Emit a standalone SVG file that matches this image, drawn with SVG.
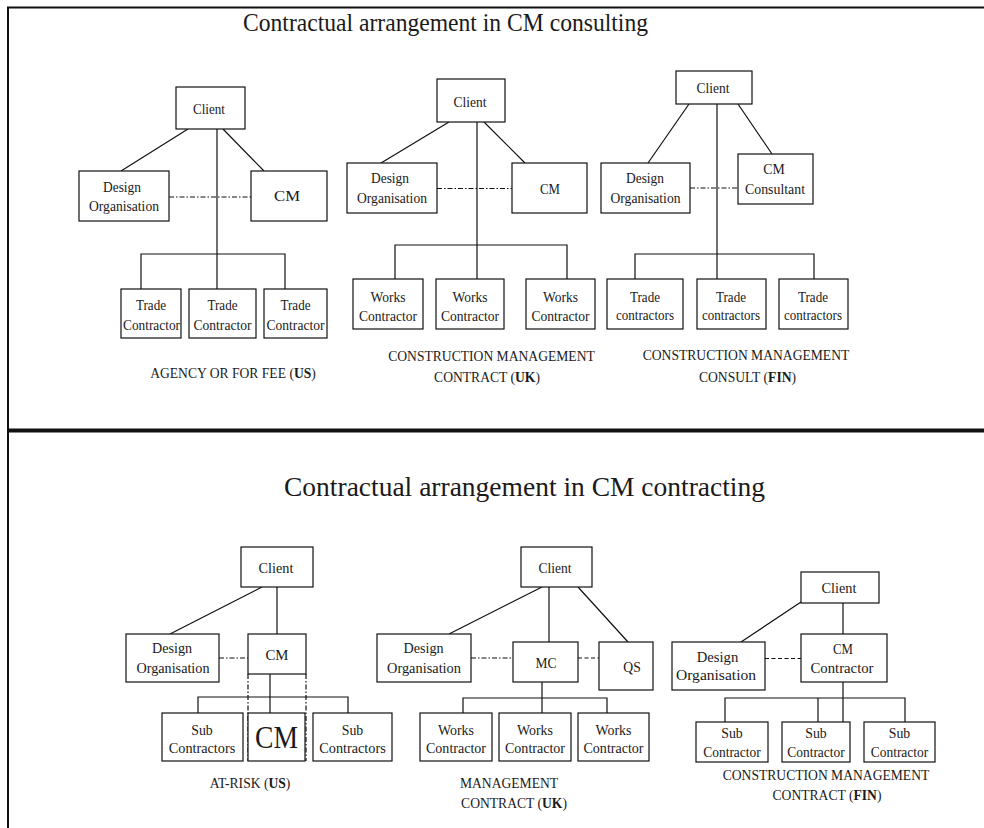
<svg xmlns="http://www.w3.org/2000/svg" width="984" height="828" viewBox="0 0 984 828">
  <style>
    .box { fill: #fff; stroke: #111; stroke-width: 1.2; }
    .ln { fill: none; stroke: #111; stroke-width: 1.2; }
    .dd { stroke-dasharray: 5 2 1.5 2; }
    .da { stroke-dasharray: 4 2.5; }
    .frame { fill: none; stroke: #111; }
    text { font-family: "Liberation Serif", "Times New Roman", serif; font-size: 15px; fill: #1a1a1a; text-anchor: middle; }
    .cap { font-size: 13.6px; }
    .title { font-size: 25px; }
    .title2 { font-size: 28px; }
    .big { font-size: 32px; }
    .b { font-weight: bold; }
  </style>
  <rect x="0" y="0" width="984" height="828" fill="#fff"/>

  <!-- frame and section divider -->
  <g id="frame">
    <path class="frame" stroke-width="2" d="M8,828 V7.5 H984"/>
    <path class="frame" stroke-width="4" d="M8,430.5 H984"/>
  </g>

  <text class="title" x="445.5" y="31" textLength="405" lengthAdjust="spacingAndGlyphs">Contractual arrangement in CM consulting</text>
  <text class="title2" x="524.5" y="496" textLength="481" lengthAdjust="spacingAndGlyphs">Contractual arrangement in CM contracting</text>

  <!-- connectors -->
  <g id="connectors">
    <!-- agency / for fee (US) -->
    <path class="ln" d="M188,129 L121,171 M223,129 L264,171 M217,129 V289 M141,289 V254 H285 V289"/>
    <path class="ln dd" d="M169,197 H251"/>
    <!-- CM contract (UK) -->
    <path class="ln" d="M449,122 L381,163 M484,122 L525,163 M477,122 V279 M395,279 V245 H567 V279"/>
    <path class="ln dd" d="M437,188.5 H512"/>
    <!-- CM consult (FIN) -->
    <path class="ln" d="M689,104 L648,163 M738,104 L772,154 M717,104 V279 M635,279 V254 H814 V279"/>
    <path class="ln dd" d="M690,188 H738"/>
    <!-- at-risk (US) -->
    <path class="ln" d="M262,587 L170,634 M277,587 V634 M270,674 V713 M198,713 V697 H348 V713"/>
    <path class="ln dd" d="M219,658 H248 M248,674 V761 M306,674 V761"/>
    <!-- management contract (UK) -->
    <path class="ln" d="M542,587 L449,634 M549,587 V642 M578,587 L628,642 M542,682 V713 M463,713 V698 H607 V713"/>
    <path class="ln dd" d="M471,658 H513"/>
    <path class="ln da" d="M578,658 H599"/>
    <!-- CM contract (FIN) -->
    <path class="ln" d="M801,602 L741,642 M843,603 V634 M843,682 V722 M725,722 V698 H905 V722 M818,698 V722"/>
    <path class="ln da" d="M765,658.5 H801"/>
  </g>

  <!-- ===== Agency or for fee (US) ===== -->
  <g id="us-fee-client"><rect class="box" x="176" y="87" width="69" height="42"/>
    <text x="209" y="114" textLength="32" lengthAdjust="spacingAndGlyphs">Client</text></g>
  <g id="us-fee-design"><rect class="box" x="79" y="171" width="90" height="50"/>
    <text x="122" y="192" textLength="38" lengthAdjust="spacingAndGlyphs">Design</text>
    <text x="124" y="211" textLength="70" lengthAdjust="spacingAndGlyphs">Organisation</text></g>
  <g id="us-fee-cm"><rect class="box" x="251" y="171" width="76" height="50"/>
    <text x="287" y="201" textLength="26" lengthAdjust="spacingAndGlyphs">CM</text></g>
  <g id="us-fee-trade-1"><rect class="box" x="121" y="289" width="60" height="49"/>
    <text x="151" y="310" textLength="30" lengthAdjust="spacingAndGlyphs">Trade</text>
    <text x="151.5" y="330" textLength="57" lengthAdjust="spacingAndGlyphs">Contractor</text></g>
  <g id="us-fee-trade-2"><rect class="box" x="189" y="289" width="67" height="49"/>
    <text x="222.5" y="310" textLength="30" lengthAdjust="spacingAndGlyphs">Trade</text>
    <text x="222.5" y="330" textLength="58" lengthAdjust="spacingAndGlyphs">Contractor</text></g>
  <g id="us-fee-trade-3"><rect class="box" x="264" y="289" width="63" height="49"/>
    <text x="295.5" y="310" textLength="30" lengthAdjust="spacingAndGlyphs">Trade</text>
    <text x="295.5" y="330" textLength="58" lengthAdjust="spacingAndGlyphs">Contractor</text></g>
  <text class="cap" x="233" y="378">AGENCY OR FOR FEE (<tspan class="b">US</tspan>)</text>

  <!-- ===== Construction management contract (UK) ===== -->
  <g id="uk-cmc-client"><rect class="box" x="437" y="79" width="68" height="43"/>
    <text x="470" y="107" textLength="33" lengthAdjust="spacingAndGlyphs">Client</text></g>
  <g id="uk-cmc-design"><rect class="box" x="347" y="163" width="90" height="50"/>
    <text x="390" y="183" textLength="38" lengthAdjust="spacingAndGlyphs">Design</text>
    <text x="392" y="202.5" textLength="70" lengthAdjust="spacingAndGlyphs">Organisation</text></g>
  <g id="uk-cmc-cm"><rect class="box" x="512" y="163" width="75" height="50"/>
    <text x="550" y="194" textLength="20" lengthAdjust="spacingAndGlyphs">CM</text></g>
  <g id="uk-cmc-works-1"><rect class="box" x="353" y="279" width="70" height="50"/>
    <text x="388" y="301.5" textLength="35" lengthAdjust="spacingAndGlyphs">Works</text>
    <text x="388" y="320.5" textLength="58" lengthAdjust="spacingAndGlyphs">Contractor</text></g>
  <g id="uk-cmc-works-2"><rect class="box" x="436" y="279" width="68" height="50"/>
    <text x="470" y="301.5" textLength="35" lengthAdjust="spacingAndGlyphs">Works</text>
    <text x="470" y="320.5" textLength="58" lengthAdjust="spacingAndGlyphs">Contractor</text></g>
  <g id="uk-cmc-works-3"><rect class="box" x="526" y="279" width="69" height="50"/>
    <text x="560.5" y="301.5" textLength="35" lengthAdjust="spacingAndGlyphs">Works</text>
    <text x="560.5" y="320.5" textLength="58" lengthAdjust="spacingAndGlyphs">Contractor</text></g>
  <text class="cap" x="491.5" y="360.5">CONSTRUCTION MANAGEMENT</text>
  <text class="cap" x="487" y="381.5">CONTRACT (<tspan class="b">UK</tspan>)</text>

  <!-- ===== Construction management consult (FIN) ===== -->
  <g id="fin-consult-client"><rect class="box" x="676" y="71" width="76" height="33"/>
    <text x="713" y="93" textLength="33" lengthAdjust="spacingAndGlyphs">Client</text></g>
  <g id="fin-consult-design"><rect class="box" x="601" y="163" width="89" height="50"/>
    <text x="645" y="183" textLength="38" lengthAdjust="spacingAndGlyphs">Design</text>
    <text x="645.5" y="202.5" textLength="70" lengthAdjust="spacingAndGlyphs">Organisation</text></g>
  <g id="fin-consult-cm"><rect class="box" x="738" y="154" width="75" height="50"/>
    <text x="774" y="174" textLength="21.5" lengthAdjust="spacingAndGlyphs">CM</text>
    <text x="775" y="194" textLength="60" lengthAdjust="spacingAndGlyphs">Consultant</text></g>
  <g id="fin-consult-trade-1"><rect class="box" x="607" y="279" width="76" height="50"/>
    <text x="645" y="301.5" textLength="30" lengthAdjust="spacingAndGlyphs">Trade</text>
    <text x="645" y="320" textLength="58" lengthAdjust="spacingAndGlyphs">contractors</text></g>
  <g id="fin-consult-trade-2"><rect class="box" x="697" y="279" width="69" height="50"/>
    <text x="731" y="301.5" textLength="30" lengthAdjust="spacingAndGlyphs">Trade</text>
    <text x="731" y="320" textLength="58" lengthAdjust="spacingAndGlyphs">contractors</text></g>
  <g id="fin-consult-trade-3"><rect class="box" x="779" y="279" width="69" height="50"/>
    <text x="813" y="301.5" textLength="30" lengthAdjust="spacingAndGlyphs">Trade</text>
    <text x="813" y="320" textLength="58" lengthAdjust="spacingAndGlyphs">contractors</text></g>
  <text class="cap" x="746" y="360">CONSTRUCTION MANAGEMENT</text>
  <text class="cap" x="747.5" y="381.5">CONSULT (<tspan class="b">FIN</tspan>)</text>

  <!-- ===== At-risk (US) ===== -->
  <g id="us-risk-client"><rect class="box" x="241" y="547" width="72" height="40"/>
    <text x="276" y="573" textLength="35" lengthAdjust="spacingAndGlyphs">Client</text></g>
  <g id="us-risk-design"><rect class="box" x="126" y="634" width="93" height="48"/>
    <text x="172" y="653" textLength="40" lengthAdjust="spacingAndGlyphs">Design</text>
    <text x="173" y="672.5" textLength="73" lengthAdjust="spacingAndGlyphs">Organisation</text></g>
  <g id="us-risk-cm"><rect class="box" x="248" y="634" width="58" height="40"/>
    <text x="277" y="660" textLength="23" lengthAdjust="spacingAndGlyphs">CM</text></g>
  <g id="us-risk-sub-1"><rect class="box" x="162" y="713" width="81" height="48"/>
    <text x="202" y="735" textLength="21.5" lengthAdjust="spacingAndGlyphs">Sub</text>
    <text x="202" y="753" textLength="66.5" lengthAdjust="spacingAndGlyphs">Contractors</text></g>
  <g id="us-risk-cm-own"><rect class="box" x="248" y="713" width="57" height="48"/>
    <text class="big" x="276.5" y="748" textLength="43" lengthAdjust="spacingAndGlyphs">CM</text></g>
  <g id="us-risk-sub-2"><rect class="box" x="313" y="713" width="79" height="48"/>
    <text x="352.5" y="735" textLength="21.5" lengthAdjust="spacingAndGlyphs">Sub</text>
    <text x="352.5" y="753" textLength="66.5" lengthAdjust="spacingAndGlyphs">Contractors</text></g>
  <text class="cap" x="250" y="788">AT-RISK (<tspan class="b">US</tspan>)</text>

  <!-- ===== Management contract (UK) ===== -->
  <g id="uk-mc-client"><rect class="box" x="521" y="547" width="71" height="40"/>
    <text x="555" y="573" textLength="33" lengthAdjust="spacingAndGlyphs">Client</text></g>
  <g id="uk-mc-design"><rect class="box" x="377" y="634" width="94" height="48"/>
    <text x="423.5" y="653" textLength="40" lengthAdjust="spacingAndGlyphs">Design</text>
    <text x="424" y="672.5" textLength="74" lengthAdjust="spacingAndGlyphs">Organisation</text></g>
  <g id="uk-mc-mc"><rect class="box" x="513" y="642" width="65" height="40"/>
    <text x="546" y="668" textLength="21" lengthAdjust="spacingAndGlyphs">MC</text></g>
  <g id="uk-mc-qs"><rect class="box" x="599" y="642" width="54" height="48"/>
    <text x="632" y="671.5" textLength="17.5" lengthAdjust="spacingAndGlyphs">QS</text></g>
  <g id="uk-mc-works-1"><rect class="box" x="420" y="713" width="72" height="48"/>
    <text x="456" y="735" textLength="36" lengthAdjust="spacingAndGlyphs">Works</text>
    <text x="456" y="753" textLength="60" lengthAdjust="spacingAndGlyphs">Contractor</text></g>
  <g id="uk-mc-works-2"><rect class="box" x="499" y="713" width="72" height="48"/>
    <text x="535" y="735" textLength="36" lengthAdjust="spacingAndGlyphs">Works</text>
    <text x="535" y="753" textLength="60" lengthAdjust="spacingAndGlyphs">Contractor</text></g>
  <g id="uk-mc-works-3"><rect class="box" x="578" y="713" width="71" height="48"/>
    <text x="613.5" y="735" textLength="36" lengthAdjust="spacingAndGlyphs">Works</text>
    <text x="613.5" y="753" textLength="60" lengthAdjust="spacingAndGlyphs">Contractor</text></g>
  <text class="cap" x="509" y="788">MANAGEMENT</text>
  <text class="cap" x="514" y="808">CONTRACT (<tspan class="b">UK</tspan>)</text>

  <!-- ===== Construction management contract (FIN) ===== -->
  <g id="fin-cmc-client"><rect class="box" x="801" y="572" width="78" height="31"/>
    <text x="839" y="593" textLength="35" lengthAdjust="spacingAndGlyphs">Client</text></g>
  <g id="fin-cmc-design"><rect class="box" x="672" y="642" width="93" height="48"/>
    <text x="717.5" y="661.5" textLength="41.5" lengthAdjust="spacingAndGlyphs">Design</text>
    <text x="716" y="680" textLength="80" lengthAdjust="spacingAndGlyphs">Organisation</text></g>
  <g id="fin-cmc-cm"><rect class="box" x="801" y="634" width="86" height="48"/>
    <text x="843" y="654" textLength="20" lengthAdjust="spacingAndGlyphs">CM</text>
    <text x="842" y="672.5" textLength="63" lengthAdjust="spacingAndGlyphs">Contractor</text></g>
  <g id="fin-cmc-sub-1"><rect class="box" x="696" y="722" width="72" height="40"/>
    <text x="732" y="738" textLength="21.5" lengthAdjust="spacingAndGlyphs">Sub</text>
    <text x="732" y="756.5" textLength="57.5" lengthAdjust="spacingAndGlyphs">Contractor</text></g>
  <g id="fin-cmc-sub-2"><rect class="box" x="782" y="722" width="68" height="40"/>
    <text x="816" y="738" textLength="21.5" lengthAdjust="spacingAndGlyphs">Sub</text>
    <text x="816" y="756.5" textLength="57.5" lengthAdjust="spacingAndGlyphs">Contractor</text></g>
  <g id="fin-cmc-sub-3"><rect class="box" x="864" y="722" width="71" height="40"/>
    <text x="899.5" y="738" textLength="21.5" lengthAdjust="spacingAndGlyphs">Sub</text>
    <text x="899.5" y="756.5" textLength="57.5" lengthAdjust="spacingAndGlyphs">Contractor</text></g>
  <text class="cap" x="826" y="780">CONSTRUCTION MANAGEMENT</text>
  <text class="cap" x="827" y="800">CONTRACT (<tspan class="b">FIN</tspan>)</text>
</svg>
